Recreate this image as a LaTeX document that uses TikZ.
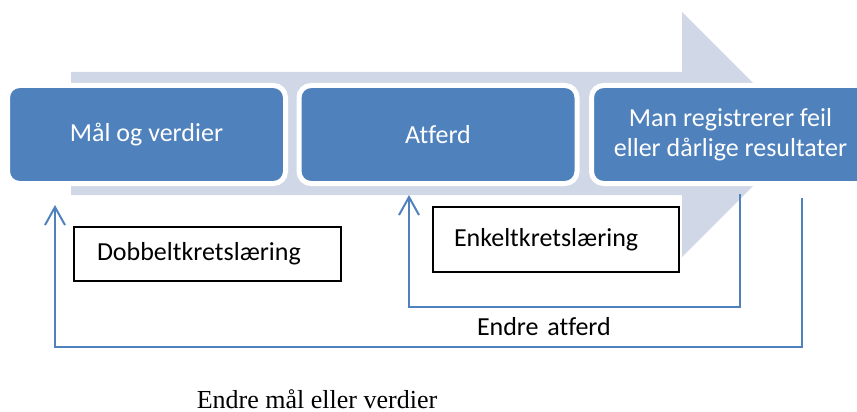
\documentclass[tikz,border=0pt]{standalone}
\usepackage{fontspec}
\setmainfont{Liberation Serif}
\newfontfamily\calibri[Ligatures=NoCommon]{Carlito}
\usetikzlibrary{calc,arrows.meta}

\definecolor{stepblue}{HTML}{4F81BD}
\definecolor{flowgray}{HTML}{D0D8E8}

\tikzset{
  stepbox/.style={draw=white, line width=5pt, fill=stepblue, rounded corners=12pt,
    minimum width=278pt, minimum height=98pt, text=white, align=center,
    font=\calibri\fontsize{26}{30}\selectfont},
  notebox/.style={draw=black, line width=1.2pt, fill=white, align=left,
    font=\calibri\fontsize{26}{30}\selectfont},
  feedback/.style={draw=stepblue, line width=2pt,
    -{Straight Barb[length=18pt, width=20pt]}}
}

\begin{document}
\begin{tikzpicture}[x=1pt, y=-1pt]

            \useasboundingbox (0,0) rectangle (857,412);
            \clip (0,0) rectangle (857,412);

            % Background arrow
            \fill[flowgray] (71,72) -- (682,72) -- (682,12) -- (804.5,134.5)
              -- (682,257) -- (682,195) -- (71,195) -- cycle;

            % Steps
            \node[stepbox] (goals) at (146.5,134.5) {Mål og verdier};
            \node[stepbox] (behaviour) at (438,134.5) {Atferd};
            \node[stepbox] (errors) at (730.5,134.5) {Man registrerer feil\\eller dårlige resultater};

            % Loop labels
            \node[notebox, text width=221pt, inner xsep=23pt, minimum height=54pt] (double) at (207.5,254) {Dobbeltkretslæring};
            \node[notebox, text width=204pt, inner xsep=21pt, minimum height=65pt] (single) at (556,239.5) {Enkeltkretslæring};

            % Single loop
            \coordinate (singlestart) at ($(errors.south)+(9.5,8)$);
            \coordinate (singleend) at ($(behaviour.south)+(-29,9)$);
            \draw[feedback] (singlestart) -- ++(0,113) -| (singleend);

            % Double loop
            \coordinate (doublestart) at ($(errors.south)+(71.5,12)$);
            \coordinate (doubleend) at ($(goals.south)+(-91.5,19)$);
            \draw[feedback] (doublestart) -- ++(0,149) -| (doubleend);

            % Labels
            \node[fill=white, text width=168pt, inner xsep=21pt, minimum height=38pt, align=left,
              font=\calibri\fontsize{26}{30}\selectfont] (changebehaviour) at (561,327) {Endre atferd};
            \node[inner ysep=0.5pt, font=\fontsize{26}{30}\selectfont] (changegoals) at (317,399) {Endre mål eller verdier};
            \end{tikzpicture}
\end{document}
